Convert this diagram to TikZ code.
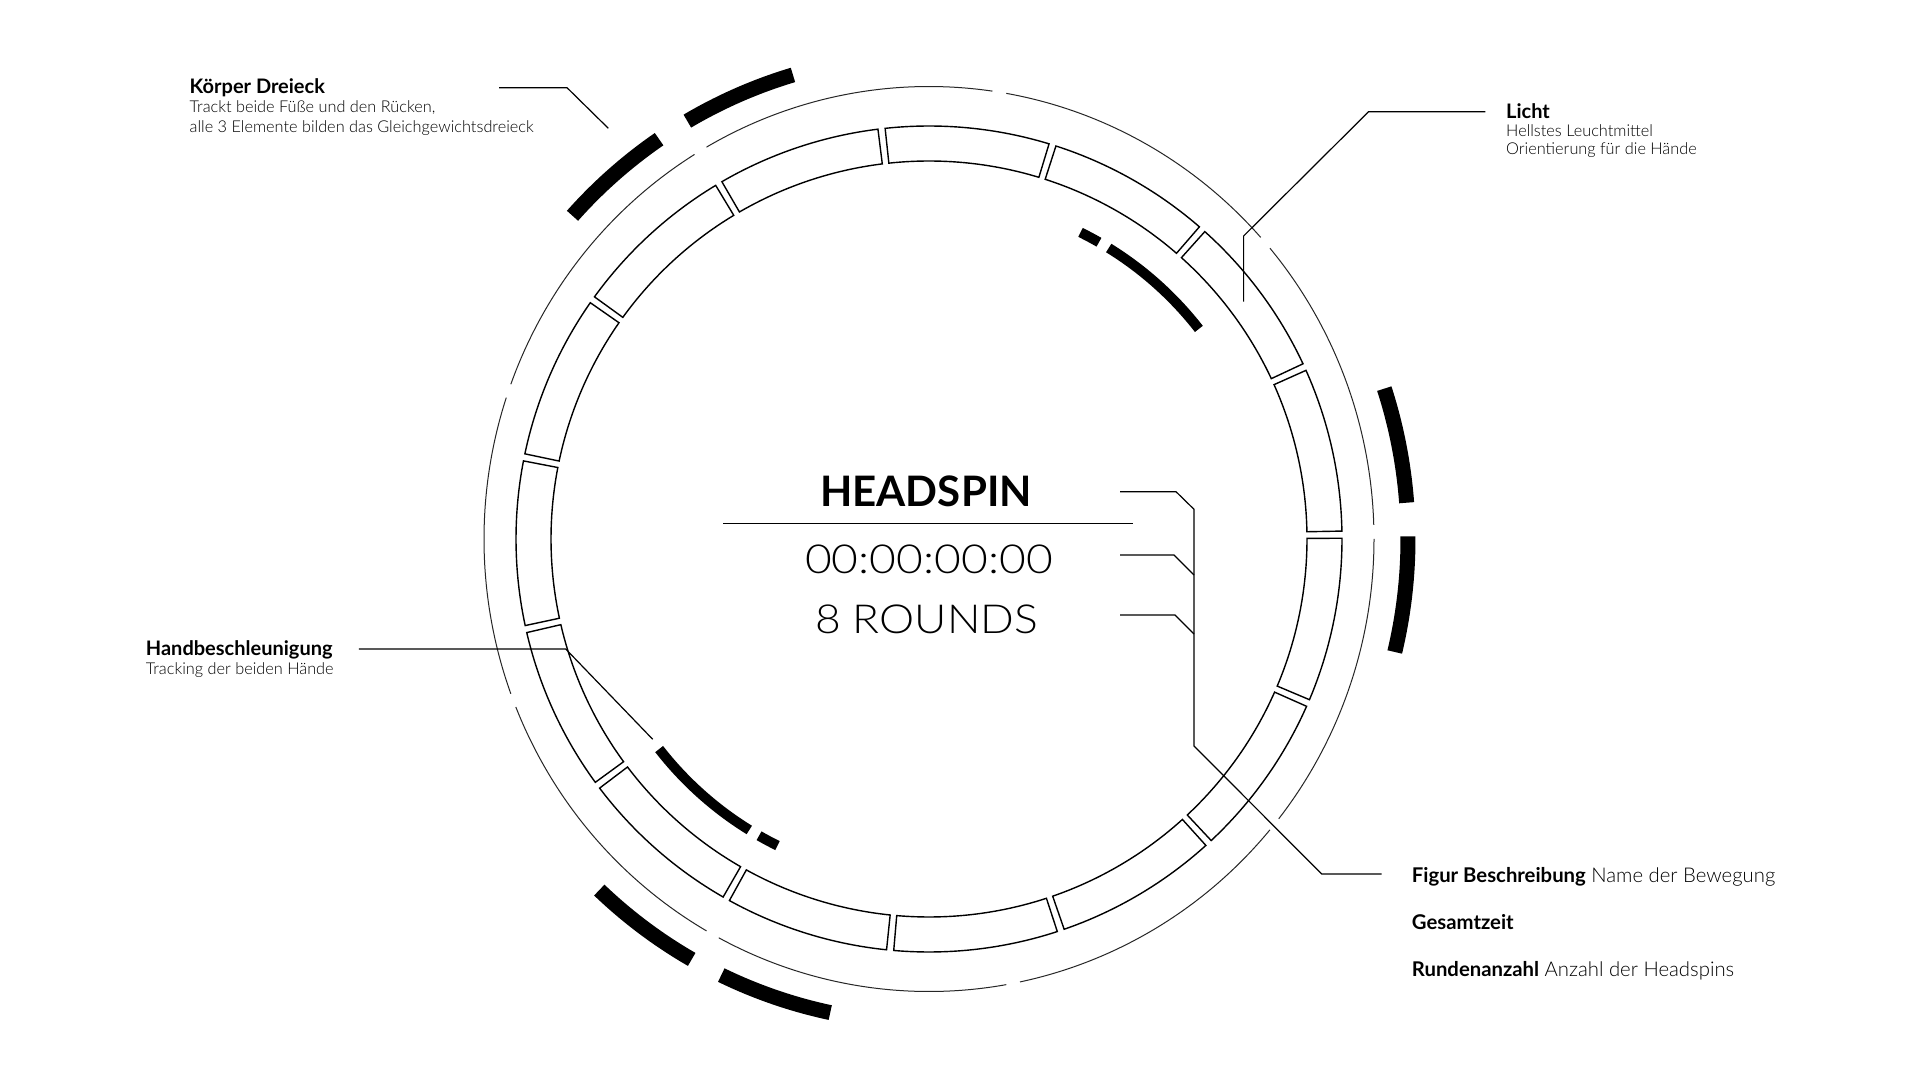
\documentclass[tikz,border=0pt]{standalone}
\usepackage{fontspec}
\setmainfont{Lato}
\IfFontExistsTF{Lato Light}{\newfontfamily\lightfont{Lato Light}}{\newfontfamily\lightfont{Lato}}
\newcommand\bfx{\normalfont\bfseries}
\begin{document}
\begin{tikzpicture}[x=1pt,y=1pt,
  seg/.style={draw=black, line width=1.4pt, line join=miter},
  ring/.style={draw=black!85, line width=1pt},
  thickin/.style={draw=black, line width=10pt},
  thickout/.style={draw=black, line width=15pt},
  leader/.style={draw=black, line width=1.2pt},
  ttl/.style={font=\bfx\fontsize{20}{24}\selectfont, anchor=base west, inner sep=0pt},
  dsc/.style={font=\lightfont\fontsize{16.3}{19}\selectfont, anchor=base west, inner sep=0pt},
  lgd/.style={font=\lightfont\fontsize{20.3}{24}\selectfont, anchor=base west, inner sep=0pt},
  big/.style={anchor=base, inner sep=0pt},
]
\useasboundingbox (0,0) rectangle (1920,1080);
\fill[white] (0,0) rectangle (1920,1080);
\coordinate (C) at (929,541);

% segmented ring
\foreach \k in {0,...,14}{
  \pgfmathsetmacro\sa{24*\k+1.1}
  \pgfmathsetmacro\sb{24*\k+24.1}
  \draw[seg] ([shift={(\sa:378pt)}]C) arc[start angle=\sa, end angle=\sb, radius=378pt]
     -- ([shift={(\sb:413pt)}]C) arc[start angle=\sb, end angle=\sa, radius=413pt] -- cycle;
}

% outer thin ring
\foreach \k in {0,...,8}{
  \pgfmathsetmacro\ra{40*\k+1.8}
  \pgfmathsetmacro\rb{40*\k+40}
  \draw[ring] ([shift={(\ra:445pt and 452.5pt)}]C) arc[start angle=\ra, end angle=\rb, x radius=445pt, y radius=452.5pt];
}

% inner thick arcs
\draw[thickin] ([shift={(37.9:342pt)}]C) arc[start angle=37.9, end angle=58.3, radius=342pt];
\draw[thickin] ([shift={(60.2:342pt)}]C) arc[start angle=60.2, end angle=63.7, radius=342pt];
\draw[thickin] ([shift={(217.9:342pt)}]C) arc[start angle=217.9, end angle=238.3, radius=342pt];
\draw[thickin] ([shift={(240.2:342pt)}]C) arc[start angle=240.2, end angle=243.7, radius=342pt];

% outer thick arcs
\foreach \c in {2.3,122.3,242.3}{
  \pgfmathsetmacro\ta{\c-15.8}
  \pgfmathsetmacro\tb{\c-2}
  \pgfmathsetmacro\tc{\c+2}
  \pgfmathsetmacro\td{\c+15.8}
  \draw[thickout] ([shift={(\ta:479pt and 484pt)}]C) arc[start angle=\ta, end angle=\tb, x radius=479pt, y radius=484pt];
  \draw[thickout] ([shift={(\tc:479pt and 484pt)}]C) arc[start angle=\tc, end angle=\td, x radius=479pt, y radius=484pt];
}

% centre texts
\node[font=\bfx\fontsize{42}{50}\selectfont, anchor=base, inner sep=0pt] (head) at (926,573.3) {HEADSPIN};
\coordinate (u1) at (723,556.7);
\coordinate (u2) at (1133.3,556.7);
\draw[leader] (u1) -- (u2);
\node[big, font=\lightfont\fontsize{40}{48}\selectfont\addfontfeatures{FakeStretch=1.155}] (time) at (929,506.7) {00:00:00:00};
\node[big, font=\lightfont\fontsize{40}{48}\selectfont\addfontfeatures{FakeStretch=1.11}] (rounds) at (926.7,446.7) {8 ROUNDS};

% Koerper Dreieck
\node[ttl] (k0) at (189.5,986.5) {Körper Dreieck};
\node[dsc] (k0a) at (189.5,967.3) {Trackt beide Füße und den Rücken,};
\node[dsc] (k0b) at (189.5,947.7) {alle 3 Elemente bilden das Gleichgewichtsdreieck};
\coordinate (k1) at (499,992.3);
\coordinate (k2) at (567,992.3);
\coordinate (k3) at (608.3,951.7);
\draw[leader] (k1) -- (k2) -- (k3);

% Licht
\node[ttl] (l0) at (1506,961.7) {Licht};
\node[dsc] (l0a) at (1506,943.3) {Hellstes Leuchtmittel};
\node[dsc] (l0b) at (1506,925) {Orientierung für die Hände};
\coordinate (l1) at (1485.4,968.3);
\coordinate (l2) at (1368.6,968.3);
\coordinate (l3) at (1243.6,844);
\coordinate (l4) at (1243.6,778.3);
\draw[leader] (l1) -- (l2) -- (l3) -- (l4);

% Handbeschleunigung
\node[ttl] (h0) at (145.7,424.5) {Handbeschleunigung};
\node[dsc] (h0a) at (145.7,405.5) {Tracking der beiden Hände};
\coordinate (h1) at (358.8,431);
\coordinate (h2) at (565.7,431);
\coordinate (h3) at (652.7,340.7);
\draw[leader] (h1) -- (h2) -- (h3);

% legend right
\node[lgd] (g1) at (1411.7,198) {{\bfx Figur Beschreibung} Name der Bewegung};
\node[lgd] (g2) at (1411.7,150.7) {{\bfx Gesamtzeit}};
\node[lgd] (g3) at (1411.7,103.3) {{\bfx Rundenanzahl} Anzahl der Headspins};

\coordinate (r1) at (1120,588.3);
\coordinate (r1b) at (1176,588.3);
\coordinate (r1c) at (1194,570.7);
\coordinate (rv) at (1194,334);
\coordinate (rd) at (1321.7,206);
\coordinate (re) at (1381.7,206);
\draw[leader] (r1) -- (r1b) -- (r1c) -- (rv) -- (rd) -- (re);
\coordinate (r2) at (1120,525);
\coordinate (r2b) at (1174,525);
\coordinate (r2c) at (1194,505);
\draw[leader] (r2) -- (r2b) -- (r2c);
\coordinate (r3) at (1120,465);
\coordinate (r3b) at (1175,465);
\coordinate (r3c) at (1194,446);
\draw[leader] (r3) -- (r3b) -- (r3c);
\end{tikzpicture}
\end{document}
